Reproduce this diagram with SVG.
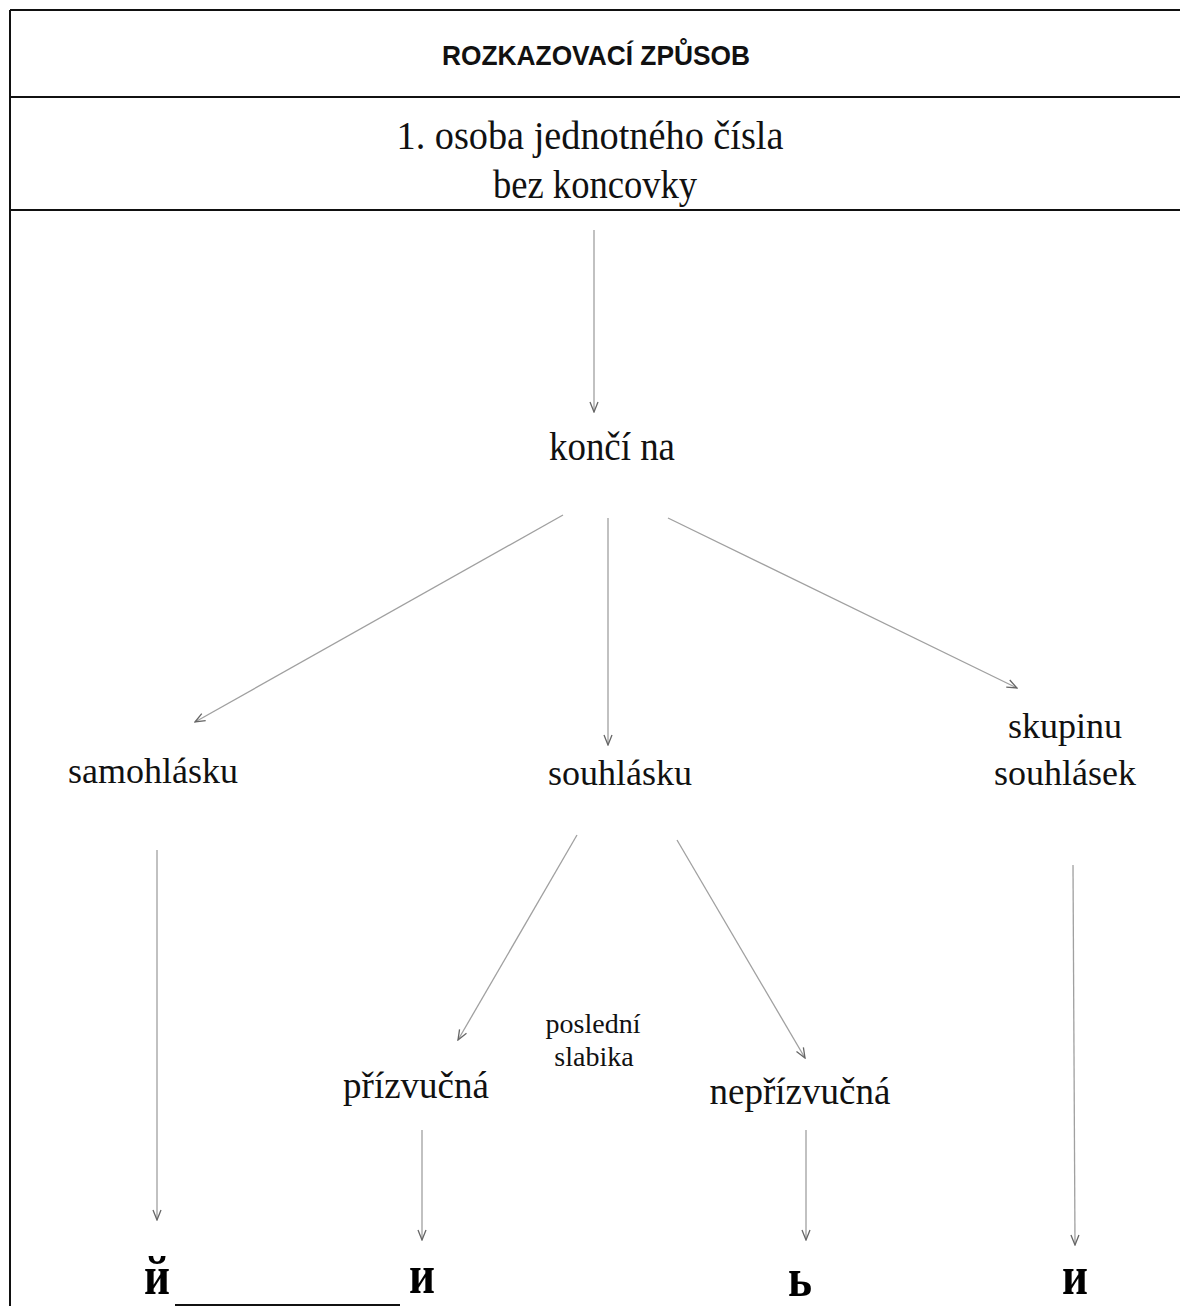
<svg xmlns="http://www.w3.org/2000/svg" width="1180" height="1306" viewBox="0 0 1180 1306">
<style>
.frame{stroke:#111;stroke-width:2;fill:none}
.conn{stroke:#a0a0a0;stroke-width:1.3;fill:none;marker-end:url(#arr)}
.t{font-family:"Liberation Serif","Times New Roman",serif;fill:#111;text-anchor:middle}
.title{font-family:"Liberation Sans",Arial,sans-serif;font-weight:bold;font-size:28px;fill:#111;text-anchor:middle}
.big{font-size:40px}
.node{font-size:36px}
.small{font-size:28px}
.cyr{font-family:"Liberation Serif","Times New Roman",serif;font-weight:bold;font-size:54px;fill:#000;text-anchor:middle}
</style>
<defs>
<marker id="arr" viewBox="0 0 12 10" refX="11" refY="5" markerWidth="12" markerHeight="10" markerUnits="userSpaceOnUse" orient="auto">
<path d="M1,1 L11,5 L1,9" fill="none" stroke="#666" stroke-width="1.3"/>
</marker>
</defs>
<rect width="1180" height="1306" fill="#fff"/>
<g id="frame">
<line class="frame" x1="10" y1="10" x2="1180" y2="10"/>
<line class="frame" x1="10" y1="97" x2="1180" y2="97"/>
<line class="frame" x1="10" y1="210" x2="1180" y2="210"/>
<line class="frame" x1="10" y1="10" x2="10" y2="1306"/>
<line class="frame" x1="175" y1="1305" x2="400" y2="1305"/>
</g>
<g id="title"><text class="title" x="596" y="65" textLength="308" lengthAdjust="spacingAndGlyphs">ROZKAZOVACÍ ZPŮSOB</text></g>
<g id="header">
<text class="t big" x="590" y="149" textLength="387" lengthAdjust="spacingAndGlyphs">1. osoba jednotného čísla</text>
<text class="t big" x="595" y="198" textLength="204" lengthAdjust="spacingAndGlyphs">bez koncovky</text>
</g>
<g id="konci"><text class="t big" x="612" y="460" textLength="126" lengthAdjust="spacingAndGlyphs">končí na</text></g>
<g id="samohlasku"><text class="t node" x="153" y="783">samohlásku</text></g>
<g id="souhlasku"><text class="t node" x="620" y="785">souhlásku</text></g>
<g id="skupinu"><text class="t node" x="1065" y="738">skupinu</text><text class="t node" x="1065" y="785">souhlásek</text></g>
<g id="posledni"><text class="t small" x="593" y="1033">poslední</text><text class="t small" x="594" y="1066">slabika</text></g>
<g id="prizvucna"><text class="t node" x="416" y="1098" style="font-size:37px">přízvučná</text></g>
<g id="neprizvucna"><text class="t node" x="800" y="1104" style="font-size:37px">nepřízvučná</text></g>
<g id="res1"><text class="cyr" x="157" y="1294" textLength="26" lengthAdjust="spacingAndGlyphs">й</text></g>
<g id="res2"><text class="cyr" x="422" y="1293" textLength="26" lengthAdjust="spacingAndGlyphs">и</text></g>
<g id="res3"><text class="cyr" x="800" y="1296" textLength="24" lengthAdjust="spacingAndGlyphs">ь</text></g>
<g id="res4"><text class="cyr" x="1075" y="1294" textLength="26" lengthAdjust="spacingAndGlyphs">и</text></g>
<g id="connectors">
<line class="conn" x1="594" y1="230" x2="594" y2="412"/>
<line class="conn" x1="563" y1="515" x2="195" y2="722"/>
<line class="conn" x1="608" y1="518" x2="608" y2="745"/>
<line class="conn" x1="668" y1="518" x2="1017" y2="688"/>
<line class="conn" x1="157" y1="850" x2="157" y2="1220"/>
<line class="conn" x1="577" y1="835" x2="458" y2="1040"/>
<line class="conn" x1="677" y1="840" x2="805" y2="1058"/>
<line class="conn" x1="1073" y1="865" x2="1075" y2="1245"/>
<line class="conn" x1="422" y1="1130" x2="422" y2="1240"/>
<line class="conn" x1="806" y1="1130" x2="806" y2="1240"/>
</g>
</svg>
